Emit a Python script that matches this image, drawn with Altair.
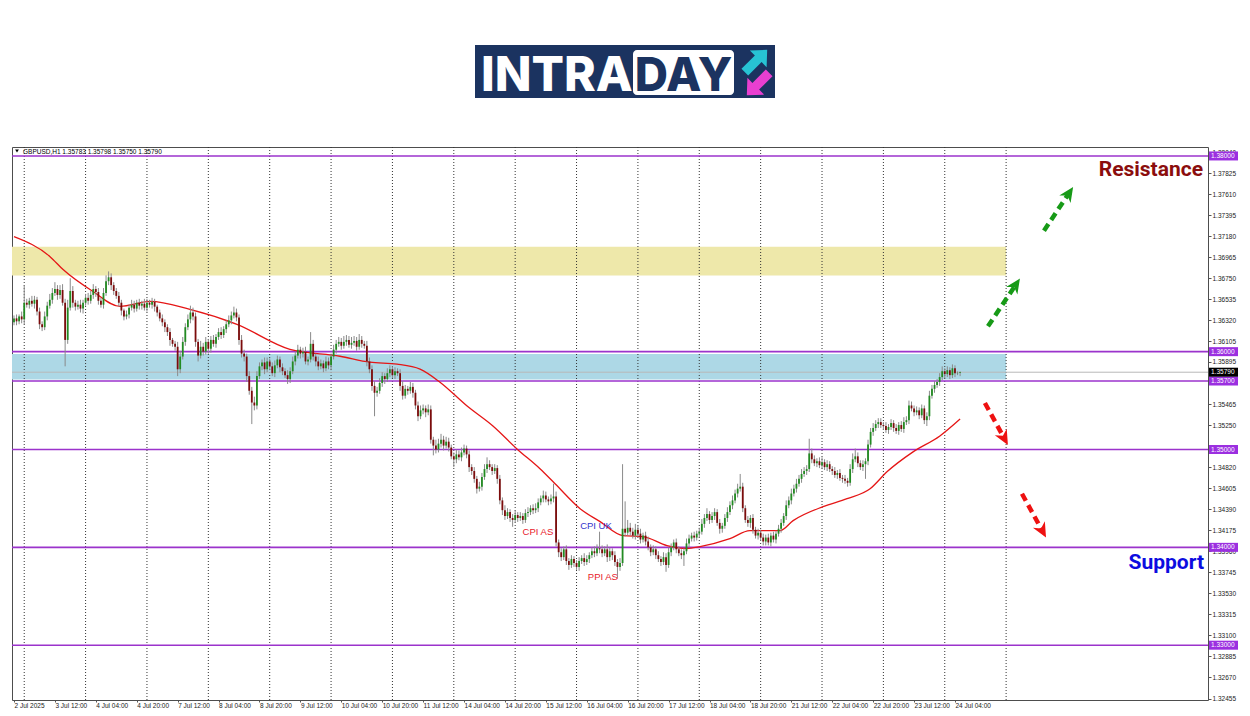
import math
import altair as alt
import pandas as pd

# ---------------- data (prices in pips above 1.3000) ----------------
BASE = 1.3
PIP = 0.0001
FIRST_OPEN = 630

CLOSE = [
    634, 631, 636, 633, 650, 648, 652, 649, 653, 641,
    628, 625, 636, 647, 653, 660, 664, 658, 663, 650,
    612, 645, 662, 650, 646, 648, 644, 650, 655, 652,
    658, 664, 661, 652, 648, 660, 672, 676, 668, 662,
    657, 650, 642, 636, 638, 645, 648, 644, 650, 647,
    649, 645, 650, 648, 651, 646, 640, 634, 630, 625,
    620, 612, 608, 605, 582, 595, 610, 625, 633, 640,
    636, 610, 596, 605, 600, 610, 603, 612, 608, 615,
    620, 617, 623, 628, 632, 637, 640, 635, 612, 598,
    595, 575, 560, 548, 545, 575, 585, 589, 582, 590,
    585, 578, 586, 592, 584, 580, 576, 572, 580, 590,
    596, 602, 598, 600, 590, 592, 608, 595, 590, 585,
    588, 583, 590, 586, 595, 602, 608, 610, 606, 610,
    612, 607, 609, 611, 605, 612, 608, 606, 590, 582,
    565, 558, 560, 568, 575, 572, 578, 582, 576, 580,
    578, 565, 555, 562, 560, 564, 558, 545, 534, 540,
    542, 538, 541, 510, 504, 500, 506, 510, 504, 508,
    502, 493, 490, 495, 492, 497, 501, 495, 482, 478,
    470, 460, 462, 472, 480, 485, 482, 478, 481, 470,
    448, 438, 432, 436, 430, 428, 433, 430, 432, 428,
    435, 436, 440, 438, 440, 446, 450, 453, 449, 447,
    450, 452, 405, 395, 390, 398, 386, 382, 388, 384,
    380, 386, 389, 385, 388, 392, 396, 394, 399, 398,
    394, 398, 390, 396, 392, 385, 380, 384, 419, 415,
    420, 416, 412, 418, 414, 408, 412, 406, 400, 395,
    398, 392, 388, 385, 390, 382, 395, 400, 405, 398,
    394, 392, 396, 404, 409, 412, 410, 414, 416, 424,
    430, 434, 428, 432, 436, 425, 419, 422, 430, 436,
    443, 448, 455, 460, 462, 440, 428, 425, 430, 418,
    412, 415, 410, 406, 410, 405, 412, 408, 414, 419,
    425, 432, 443, 448, 455, 460, 465, 470, 475, 478,
    480, 496, 490, 486, 488, 484, 487, 482, 485, 480,
    478, 474, 476, 471, 470, 468, 466, 480, 490, 493,
    486, 482, 485, 488, 505, 518, 522, 526, 528, 525,
    524, 520, 523, 527, 522, 519, 525, 521, 528, 530,
    545, 542, 538, 540, 535, 542, 530, 534, 555, 562,
    566, 569, 574, 580, 577, 581, 576, 583, 578, 578.3,
    579.0,
]

UPPER_WICK = [
    3, 4, 2, 5, 18, 4, 3, 5, 4, 3,
    4, 3, 5, 4, 6, 5, 7, 4, 5, 6,
    4, 8, 13, 5, 3, 4, 5, 3, 4, 5,
    4, 5, 3, 4, 3, 5, 6, 6, 4, 3,
    3, 4, 3, 2, 4, 3, 5, 4, 3, 4,
    3, 5, 4, 3, 4, 3, 2, 3, 4, 3,
    3, 4, 2, 3, 5, 6, 5, 4, 5, 7,
    5, 4, 3, 6, 4, 5, 3, 4, 5, 3,
    4, 5, 3, 4, 5, 4, 6, 4, 3, 5,
    4, 3, 5, 4, 6, 5, 4, 3, 5, 4,
    3, 4, 5, 4, 3, 4, 3, 5, 4, 5,
    4, 5, 3, 4, 5, 3, 12, 4, 3, 5,
    4, 3, 5, 4, 3, 5, 4, 5, 4, 6,
    5, 4, 6, 5, 4, 6, 4, 3, 5, 4,
    4, 5, 4, 5, 4, 3, 5, 4, 3, 4,
    3, 4, 5, 4, 3, 5, 4, 3, 4, 5,
    4, 3, 5, 4, 3, 6, 5, 6, 4, 5,
    4, 3, 4, 5, 4, 5, 4, 3, 4, 3,
    4, 3, 5, 4, 5, 7, 4, 3, 4, 3,
    4, 3, 5, 4, 3, 4, 5, 3, 4, 3,
    4, 5, 3, 4, 5, 4, 3, 5, 4, 3,
    4, 13, 5, 3, 4, 3, 4, 3, 4, 3,
    3, 4, 3, 5, 4, 3, 4, 5, 4, 17,
    4, 3, 5, 4, 3, 4, 3, 5, 66, 28,
    8, 5, 4, 6, 4, 5, 3, 4, 5, 3,
    4, 3, 4, 3, 5, 4, 5, 4, 3, 4,
    3, 4, 3, 5, 4, 3, 4, 3, 4, 5,
    4, 6, 3, 4, 4, 3, 4, 3, 4, 5,
    4, 5, 4, 5, 13, 4, 3, 4, 3, 4,
    3, 4, 3, 4, 3, 4, 3, 4, 3, 4,
    4, 3, 5, 4, 5, 4, 5, 4, 5, 4,
    4, 15, 5, 4, 3, 4, 5, 3, 4, 3,
    3, 4, 3, 4, 3, 4, 3, 5, 6, 8,
    4, 3, 4, 3, 5, 4, 5, 4, 4, 4,
    3, 4, 3, 4, 3, 4, 3, 4, 5, 4,
    5, 4, 3, 4, 3, 4, 3, 4, 5, 4,
    4, 3, 4, 5, 3, 4, 3, 4, 3, 1.5,
    0.8,
]

LOWER_WICK = [
    3, 4, 3, 4, 5, 3, 4, 3, 5, 4,
    5, 4, 3, 4, 3, 4, 3, 5, 4, 3,
    27, 4, 3, 5, 4, 3, 4, 5, 3, 4,
    3, 4, 5, 4, 3, 4, 3, 4, 5, 4,
    3, 4, 5, 4, 3, 4, 3, 4, 3, 4,
    4, 3, 4, 3, 4, 5, 4, 3, 4, 5,
    4, 6, 3, 4, 7, 4, 3, 4, 3, 4,
    4, 5, 6, 3, 4, 3, 5, 4, 3, 4,
    3, 4, 3, 4, 3, 4, 3, 4, 5, 4,
    5, 6, 4, 22, 5, 4, 3, 4, 5, 3,
    4, 3, 4, 3, 5, 4, 3, 5, 4, 3,
    4, 3, 5, 4, 3, 4, 3, 4, 5, 4,
    3, 4, 3, 4, 5, 3, 4, 3, 4, 3,
    4, 3, 4, 3, 4, 3, 4, 3, 5, 4,
    5, 24, 4, 3, 4, 5, 3, 4, 3, 4,
    3, 5, 4, 3, 4, 3, 5, 4, 5, 3,
    4, 5, 3, 4, 10, 4, 3, 4, 5, 3,
    4, 3, 8, 4, 3, 4, 3, 4, 5, 4,
    4, 5, 3, 4, 3, 4, 3, 4, 3, 5,
    4, 5, 4, 3, 4, 7, 3, 4, 3, 4,
    3, 4, 3, 4, 3, 4, 3, 4, 3, 4,
    3, 4, 4, 5, 4, 3, 4, 5, 3, 4,
    3, 4, 3, 4, 3, 4, 3, 4, 3, 4,
    4, 3, 5, 4, 5, 4, 12, 4, 3, 4,
    3, 4, 3, 4, 3, 4, 3, 4, 3, 4,
    3, 4, 3, 4, 3, 7, 3, 4, 3, 4,
    3, 4, 11, 3, 4, 3, 4, 3, 4, 3,
    4, 3, 4, 3, 4, 3, 5, 4, 3, 4,
    3, 4, 3, 4, 3, 4, 3, 4, 5, 4,
    3, 4, 3, 4, 4, 3, 4, 3, 4, 3,
    4, 3, 4, 3, 4, 3, 4, 3, 4, 3,
    4, 3, 4, 3, 4, 3, 4, 3, 4, 3,
    4, 3, 4, 3, 4, 3, 4, 3, 4, 3,
    4, 3, 4, 15, 4, 3, 4, 3, 4, 3,
    4, 3, 4, 3, 4, 3, 4, 3, 4, 3,
    4, 3, 4, 3, 4, 3, 4, 6, 4, 3,
    4, 3, 4, 3, 4, 3, 4, 3, 4, 2,
    3.3,
]

# moving average (read at key bars)
MA_BAR = [0, 14.1, 19.2, 30.9, 41.5, 53.2, 68.8, 87.2, 107.9, 127.5, 139.2, 149.8,
          158.8, 166.6, 177.2, 187.3, 196.7, 205.7, 211.6, 221.4, 229.2, 238.2,
          246.0, 255.4, 263.2, 268.3, 280.0, 287.8, 299.6, 304.7, 316.4, 325.8,
          334.8, 341.4, 351.6, 362.1, 370]
MA_PIPS = [717.5, 697.1, 683.9, 661.5, 646.2, 651.3, 643.2, 627.9, 602.4, 595.3, 589.2, 587.2,
           582.1, 568.8, 544.4, 524.0, 500.6, 480.3, 465.0, 439.5, 426.3, 412.0,
           411.0, 401.8, 398.8, 400.8, 408.9, 417.1, 417.1, 427.3, 441.6, 449.7,
           459.9, 477.2, 497.6, 513.9, 531.2]

X_LABELS = ["2 Jul 2025", "3 Jul 12:00", "4 Jul 04:00", "4 Jul 20:00", "7 Jul 12:00",
            "8 Jul 04:00", "8 Jul 20:00", "9 Jul 12:00", "10 Jul 04:00", "10 Jul 20:00",
            "11 Jul 12:00", "14 Jul 04:00", "14 Jul 20:00", "15 Jul 12:00", "16 Jul 04:00",
            "16 Jul 20:00", "17 Jul 12:00", "18 Jul 04:00", "18 Jul 20:00", "21 Jul 12:00",
            "22 Jul 04:00", "22 Jul 20:00", "23 Jul 12:00", "24 Jul 04:00"]
BARS_PER_LABEL = 16
GRID_BARS = [4, 28, 52, 76, 100, 124, 148, 172, 196, 220, 244, 268, 292, 316, 340, 364, 388]

PRICE_TICKS = [1.32455, 1.32670, 1.32885, 1.33100, 1.33315, 1.33530, 1.33745, 1.33960,
               1.34175, 1.34390, 1.34605, 1.34820, 1.35250, 1.35465,
               1.35895, 1.36105, 1.36320, 1.36535, 1.36750, 1.36965, 1.37180, 1.37395,
               1.37610, 1.37825, 1.38040]

LEVELS = [1.38000, 1.36000, 1.35700, 1.35000, 1.34000, 1.33000]
LAST_PRICE = 1.35790
SYMBOL = "GBPUSD,H1"
LAST_OHLC = [1.35783, 1.35798, 1.35750, 1.35790]

ZONE_LOW = [1.36778, 1.35715]
ZONE_HIGH = [1.37073, 1.35975]
ZONE_COLOR = ["#eee8aa", "#add8e6"]
ZONE_END_BAR = 388

EVENT_TEXT = ["CPI AS", "CPI UK", "PPI AS"]
EVENT_BAR = [204.9, 227.6, 230.3]
EVENT_PRICE = [1.34161, 1.34222, 1.33692]
EVENT_COLOR = ["#e8202a", "#3333cc", "#e8202a"]

ARROW_TAIL_BAR = [380.9, 402.8, 379.7, 394.2]
ARROW_TAIL_PRICE = [1.36259, 1.37236, 1.35475, 1.34548]
ARROW_TIP_BAR = [393.4, 414.2, 388.7, 403.6]
ARROW_TIP_PRICE = [1.36748, 1.37684, 1.35047, 1.34100]
ARROW_COLOR = ["#179a17", "#179a17", "#ee1111", "#ee1111"]

ZONE_LABELS = ["Resistance", "Support"]
ZONE_LABEL_BAR = [465.0, 465.4]
ZONE_LABEL_PRICE = [1.37857, 1.33845]
ZONE_LABEL_COLOR = ["#8b0d0d", "#0c0ce0"]

# ---------------- layout ----------------
W, H = 1196, 553
XMIN, XMAX = -0.78, 466.95
YMIN, YMAX = 1.324399, 1.380916
PX_BAR = W / (XMAX - XMIN)
PX_PRICE = H / (YMAX - YMIN)
LEVEL_COLOR = "#9b33cc"
BOX_COLOR = "#9b2fe0"
LBL_FONT = "Liberation Sans"

label_expr = "[" + ",".join("'%s'" % s for s in X_LABELS) + "][round(datum.value/%d)]" % BARS_PER_LABEL
x_axis = alt.Axis(values=[k * BARS_PER_LABEL for k in range(len(X_LABELS))], labelExpr=label_expr,
                  labelAlign="left", tickSize=2, labelPadding=0, title=None, labelOverlap=False,
                  labelFlush=False, labelBound=False, domain=False, grid=False,
                  labelFont=LBL_FONT, labelFontSize=6.5, labelColor="#222", tickColor="#555")
y_axis = alt.Axis(orient="right", values=PRICE_TICKS, format=".5f", tickSize=3, labelPadding=1,
                  title=None, labelOverlap=False, labelFlush=False, labelBound=False,
                  labelBaseline="middle", domain=False, grid=False,
                  labelFont=LBL_FONT, labelFontSize=6.5, labelColor="#222", tickColor="#555")
xs = alt.Scale(domain=[XMIN, XMAX], nice=False, zero=False)
ys = alt.Scale(domain=[YMIN, YMAX], nice=False, zero=False)


def X(f):
    return alt.X(f + ":Q", scale=xs, axis=x_axis)


def Y(f):
    return alt.Y(f + ":Q", scale=ys, axis=y_axis)


# candles
opens = [FIRST_OPEN] + CLOSE[:-1]
rows = []
for k, (o, c, uw, lw) in enumerate(zip(opens, CLOSE, UPPER_WICK, LOWER_WICK)):
    top, bot = max(o, c), min(o, c)
    rows.append(dict(i=k, hi=BASE + (top + uw) * PIP, lo=BASE + (bot - lw) * PIP,
                     top=BASE + top * PIP, bot=BASE + bot * PIP,
                     col="#228b22" if c >= o else "#7c0c0c"))
candles = pd.DataFrame(rows)

ma = pd.DataFrame({"i": MA_BAR, "p": [BASE + v * PIP for v in MA_PIPS]})
zones = pd.DataFrame({"i": [XMIN] * 2, "i2": [ZONE_END_BAR] * 2, "p": ZONE_LOW, "p2": ZONE_HIGH, "col": ZONE_COLOR})
grid = pd.DataFrame({"i": GRID_BARS})
levels = pd.DataFrame({"p": LEVELS, "txt": ["%.5f" % v for v in LEVELS],
                       "lo": [v - 4.5 / PX_PRICE for v in LEVELS], "hi": [v + 4.5 / PX_PRICE for v in LEVELS]})
last = pd.DataFrame({"p": [LAST_PRICE], "txt": ["%.5f" % LAST_PRICE],
                     "lo": [LAST_PRICE - 4.5 / PX_PRICE], "hi": [LAST_PRICE + 4.5 / PX_PRICE]})
events = pd.DataFrame({"i": EVENT_BAR, "p": EVENT_PRICE, "txt": EVENT_TEXT, "col": EVENT_COLOR})
zl = pd.DataFrame({"i": ZONE_LABEL_BAR, "p": ZONE_LABEL_PRICE, "txt": ZONE_LABELS, "col": ZONE_LABEL_COLOR})

# arrows: dashed shafts + heads
arows, hrows = [], []
HEAD = 16.0
for tb, tp, hb, hp, col in zip(ARROW_TAIL_BAR, ARROW_TAIL_PRICE, ARROW_TIP_BAR, ARROW_TIP_PRICE, ARROW_COLOR):
    dx = (hb - tb) * PX_BAR
    dy = (hp - tp) * PX_PRICE  # up positive
    L = math.hypot(dx, dy)
    ux, uy = dx / L, dy / L
    end = L - HEAD * 0.55
    arows.append(dict(i=tb, p=tp, i2=tb + ux * end / PX_BAR, p2=tp + uy * end / PX_PRICE, col=col))
    r = HEAD / 2
    hrows.append(dict(i=hb - ux * r / PX_BAR, p=hp - uy * r / PX_PRICE,
                      ang=math.degrees(math.atan2(dx, dy)), col=col))
shafts = pd.DataFrame(arows)
heads = pd.DataFrame(hrows)

one = pd.DataFrame({"a": [0]})

layers = []
layers.append(alt.Chart(zones).mark_rect(opacity=1).encode(
    x=X("i"), x2="i2:Q", y=Y("p"), y2="p2:Q", color=alt.Color("col:N", scale=None)))
layers.append(alt.Chart(grid).mark_rule(strokeDash=[1, 2], color="#333", strokeWidth=1).encode(x=X("i")))
layers.append(alt.Chart(last).mark_rule(color="#b8b8b8", strokeWidth=1).encode(y=Y("p")))
layers.append(alt.Chart(levels).mark_rule(color=LEVEL_COLOR, strokeWidth=1.6).encode(y=Y("p")))
layers.append(alt.Chart(ma).mark_line(color="#e51616", strokeWidth=1.3, interpolate="monotone").encode(
    x=X("i"), y=Y("p")))
layers.append(alt.Chart(candles).mark_rule(color="#8a8a8a", strokeWidth=1).encode(
    x=X("i"), y=Y("lo"), y2="hi:Q"))
layers.append(alt.Chart(candles).mark_rule(strokeWidth=1.8).encode(
    x=X("i"), y=Y("bot"), y2="top:Q", color=alt.Color("col:N", scale=None)))
layers.append(alt.Chart(shafts).mark_rule(strokeWidth=4.5, strokeDash=[8, 5], strokeCap="butt").encode(
    x=X("i"), y=Y("p"), x2="i2:Q", y2="p2:Q", color=alt.Color("col:N", scale=None)))
layers.append(alt.Chart(heads).mark_point(shape="M0,-1L0.85,0.85L0,0.3L-0.85,0.85Z", filled=True,
                                          opacity=1, size=HEAD * HEAD).encode(
    x=X("i"), y=Y("p"), angle=alt.Angle("ang:Q", scale=None), color=alt.Color("col:N", scale=None)))
layers.append(alt.Chart(events).mark_text(font=LBL_FONT, fontSize=9.5, baseline="middle", align="center").encode(
    x=X("i"), y=Y("p"), text="txt:N", color=alt.Color("col:N", scale=None)))
layers.append(alt.Chart(zl).mark_text(font="Roboto", fontSize=21, fontWeight="bold", baseline="middle",
                                      align="right").encode(
    x=X("i"), y=Y("p"), text="txt:N", color=alt.Color("col:N", scale=None)))
# price boxes on the axis
layers.append(alt.Chart(levels).mark_rect(color=BOX_COLOR).encode(
    x=alt.value(W + 1), x2=alt.value(W + 30), y=Y("lo"), y2="hi:Q"))
layers.append(alt.Chart(levels).mark_text(font=LBL_FONT, fontSize=6.5, color="white", align="left",
                                          baseline="middle").encode(
    x=alt.value(W + 3), y=Y("p"), text="txt:N"))
layers.append(alt.Chart(last).mark_rect(color="#000").encode(
    x=alt.value(W + 1), x2=alt.value(W + 30), y=Y("lo"), y2="hi:Q"))
layers.append(alt.Chart(last).mark_text(font=LBL_FONT, fontSize=6.5, color="white", align="left",
                                        baseline="middle").encode(
    x=alt.value(W + 3), y=Y("p"), text="txt:N"))
# header
header = "%s  %s" % (SYMBOL, " ".join("%.5f" % v for v in LAST_OHLC))
layers.append(alt.Chart(one).mark_point(shape="triangle-down", filled=True, color="#000", size=14,
                                        opacity=1).encode(x=alt.value(5), y=alt.value(4)))
layers.append(alt.Chart(one).mark_text(text=header, font=LBL_FONT, fontSize=6.5, color="#000",
                                       align="left", baseline="middle").encode(
    x=alt.value(11), y=alt.value(4.5)))
# logo
layers.append(alt.Chart(one).mark_rect(color="#1b3360").encode(
    x=alt.value(463), x2=alt.value(763), y=alt.value(-102), y2=alt.value(-49)))
layers.append(alt.Chart(one).mark_rect(color="#ffffff", cornerRadius=4).encode(
    x=alt.value(621), x2=alt.value(722), y=alt.value(-97), y2=alt.value(-52)))
layers.append(alt.Chart(one).mark_text(text="INTRA", font="Inter", fontSize=48, fontWeight=800,
                                       color="#ffffff", align="left", baseline="alphabetic").encode(
    x=alt.value(469), y=alt.value(-56)))
layers.append(alt.Chart(one).mark_text(text="DAY", font="Inter", fontSize=46, fontWeight=800,
                                       color="#1b3360", align="center", baseline="alphabetic").encode(
    x=alt.value(671.5), y=alt.value(-56)))
ARROW_PATH = "M0,-1L0.75,-0.2L0.3,-0.2L0.3,1L-0.3,1L-0.3,-0.2L-0.75,-0.2Z"
layers.append(alt.Chart(one).mark_point(shape=ARROW_PATH, filled=True, opacity=1, color="#27c3d4",
                                        size=1000, angle=45).encode(x=alt.value(744), y=alt.value(-86)))
layers.append(alt.Chart(one).mark_point(shape=ARROW_PATH, filled=True, opacity=1, color="#e83fd0",
                                        size=1000, angle=225).encode(x=alt.value(746), y=alt.value(-63)))

chart = alt.layer(*layers).properties(
    width=W, height=H,
    padding={"left": 4, "top": 139, "right": 34, "bottom": 8},
    autosize=alt.AutoSizeParams(type="none"),
    background="white",
).configure_view(stroke="#4d4d4d", strokeWidth=1)

chart.save("out.html", embed_options={"renderer": "svg", "actions": False})
